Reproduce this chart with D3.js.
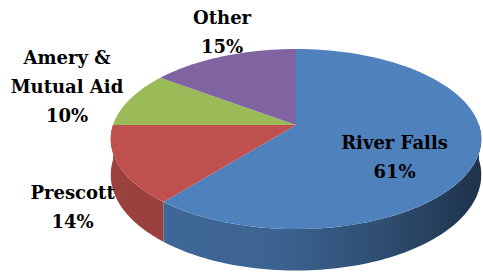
<!DOCTYPE html>
<meta charset="utf-8">
<style>
body { margin: 0; background: #fff; }
</style>
<body>
<script src="https://d3js.org/d3.v7.min.js"></script>
<script>

// data
var categories = ["River Falls", "Prescott", "Amery & Mutual Aid", "Other"];
var shares = [61, 14, 10, 15];
var nameLines = [["River Falls"], ["Prescott"], ["Amery &", "Mutual Aid"], ["Other"]];
var colors = ["#4F81BD", "#C0504D", "#9BBB59", "#8064A2"];

// label placement: point on the slice's mid angle at radius k, then nudged
var labelLayout = [
  {k: 0.55, dx: 1, dy: 15},
  {k: 1, dx: -46, dy: 42},
  {k: 1, dx: -63, dy: -13},
  {k: 1, dx: -1, dy: -24}
];

var width = 483, height = 273;

// 3d look of the pie
var cx = 296, cy = 125,   // where the slices meet
    R = 183,              // radius in px
    tilt = 0.48,          // sin of the view angle
    camD = 5.62,          // camera distance (in radii), gives the perspective
    thick = 35,           // side wall height
    lineH = 29;

var cosT = Math.sqrt(1 - tilt * tilt);

// project a point of the pie (angle clockwise from 12 o'clock) to the screen
function project(theta, r, drop) {
  var px = r * Math.sin(theta), py = -r * Math.cos(theta);
  var s = camD / (camD - cosT * py);
  return [cx + R * px * s, cy + (R * tilt * py + drop) * s];
}

var svg = d3.select("body").append("svg")
    .attr("width", width)
    .attr("height", height);

var arcs = d3.pie().sort(null).value(function(d) { return d; })(shares);
var line = d3.line();
var steps = 90;

// side wall gradients, light on the left, dark to the right
var defs = svg.append("defs");
colors.forEach(function(c, i) {
  var g = defs.append("linearGradient")
      .attr("id", "side" + i)
      .attr("gradientUnits", "userSpaceOnUse")
      .attr("x1", cx - R).attr("y1", 0)
      .attr("x2", cx + R).attr("y2", 0);
  [[0, 0.6], [0.45, 0.75], [0.75, 1.5], [1, 2.6]].forEach(function(st) {
    g.append("stop")
      .attr("offset", st[0])
      .attr("stop-color", d3.color(c).darker(st[1]));
  });
});

// side walls, only the front half shows
var front = arcs.map(function(a, i) { return {a: a, i: i}; })
  .sort(function(p, q) {
    return -Math.cos((p.a.startAngle + p.a.endAngle) / 2) - -Math.cos((q.a.startAngle + q.a.endAngle) / 2);
  });

front.forEach(function(p) {
  var b0 = Math.max(p.a.startAngle, Math.PI / 2),
      b1 = Math.min(p.a.endAngle, 3 * Math.PI / 2);
  if (b1 <= b0) return;
  var pts = [];
  d3.range(steps + 1).forEach(function(k) { pts.push(project(b0 + (b1 - b0) * k / steps, 1, 0)); });
  d3.range(steps + 1).forEach(function(k) { pts.push(project(b1 - (b1 - b0) * k / steps, 1, thick)); });
  svg.append("path")
      .attr("d", line(pts) + "Z")
      .attr("fill", "url(#side" + p.i + ")");
});

// top faces
arcs.forEach(function(a, i) {
  var pts = [project(0, 0, 0)];
  d3.range(steps + 1).forEach(function(k) {
    pts.push(project(a.startAngle + (a.endAngle - a.startAngle) * k / steps, 1, 0));
  });
  svg.append("path")
      .attr("d", line(pts) + "Z")
      .attr("fill", colors[i]);
});

// labels
arcs.forEach(function(a, i) {
  var lay = labelLayout[i];
  var p = project((a.startAngle + a.endAngle) / 2, lay.k, 0);
  var lines = nameLines[i].concat([shares[i] + "%"]);
  var t = svg.append("text")
      .attr("font-family", "DejaVu Serif")
      .attr("font-weight", "bold")
      .attr("font-size", 18)
      .attr("text-anchor", "middle");
  lines.forEach(function(s, j) {
    t.append("tspan")
      .attr("x", p[0] + lay.dx)
      .attr("y", p[1] + lay.dy + (j - (lines.length - 1) / 2) * lineH + 6.5)
      .text(s);
  });
});

</script>
</body>
